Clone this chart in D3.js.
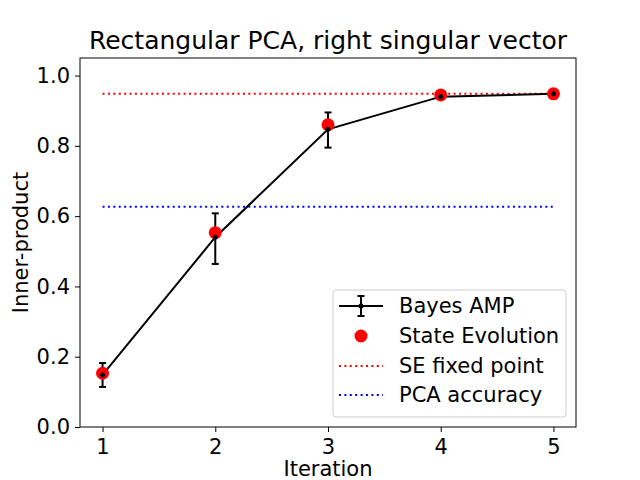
<!DOCTYPE html>
<html>
<head>
<meta charset="utf-8">
<script src="https://cdn.jsdelivr.net/npm/d3@7"></script>
<style>
  body { margin: 0; background: #fff; }
  svg text { font-family: "DejaVu Sans", sans-serif; fill: #000; }
</style>
</head>
<body>
<svg id="chart" width="640" height="480"></svg>
<script>
// values
var iterations = [1, 2, 3, 4, 5];
var amp_mean = [0.148, 0.540, 0.847, 0.940, 0.948];
var amp_lo = [0.114, 0.464, 0.795, 0.936, 0.945];
var amp_hi = [0.182, 0.608, 0.895, 0.944, 0.951];
var se_values = [0.153, 0.553, 0.860, 0.945, 0.948];
var se_fixed_point = 0.948;
var pca_accuracy = 0.627;
var x_ticks = [1, 2, 3, 4, 5];
var y_ticks = [0, 0.2, 0.4, 0.6, 0.8, 1.0];
var legend_labels = ["Bayes AMP", "State Evolution", "SE fixed point", "PCA accuracy"];

var svg = d3.select("#chart");
var plotLeft = 80, plotRight = 576, plotTop = 58, plotBottom = 427;
var fs = "21px";
var lw = 2;
var dots = "2,3.4";

var x = d3.scaleLinear().domain([0.8, 5.2]).range([plotLeft, plotRight]);
var y = d3.scaleLinear().domain([0, 1.05]).range([plotBottom, plotTop]);

// dotted reference lines
function hline(val, color) {
    svg.append("line")
        .attr("x1", x(iterations[0])).attr("x2", x(iterations[iterations.length - 1]))
        .attr("y1", y(val)).attr("y2", y(val))
        .attr("stroke", color).attr("stroke-width", lw)
        .attr("stroke-dasharray", dots);
}
hline(se_fixed_point, "red");
hline(pca_accuracy, "blue");

// Bayes AMP line
var line = d3.line().x(function(d, i) { return x(iterations[i]); }).y(function(d) { return y(d); });
svg.append("path").datum(amp_mean)
    .attr("d", line).attr("fill", "none")
    .attr("stroke", "#000").attr("stroke-width", lw);

// error bars
iterations.forEach(function(it, i) {
    var g = svg.append("g").attr("stroke", "#000").attr("stroke-width", lw);
    g.append("line").attr("x1", x(it)).attr("x2", x(it)).attr("y1", y(amp_lo[i])).attr("y2", y(amp_hi[i]));
    g.append("line").attr("x1", x(it) - 3.5).attr("x2", x(it) + 3.5).attr("y1", y(amp_lo[i])).attr("y2", y(amp_lo[i]));
    g.append("line").attr("x1", x(it) - 3.5).attr("x2", x(it) + 3.5).attr("y1", y(amp_hi[i])).attr("y2", y(amp_hi[i]));
});

// state evolution dots
svg.selectAll("circle.se").data(se_values).enter().append("circle")
    .attr("class", "se")
    .attr("cx", function(d, i) { return x(iterations[i]); })
    .attr("cy", function(d) { return y(d); })
    .attr("r", 6.5).attr("fill", "red");

// small black markers on AMP line
svg.selectAll("circle.amp").data(amp_mean).enter().append("circle")
    .attr("class", "amp")
    .attr("cx", function(d, i) { return x(iterations[i]); })
    .attr("cy", function(d) { return y(d); })
    .attr("r", 2.5).attr("fill", "#000");

// axes
var xAxis = svg.append("g").attr("transform", "translate(0," + plotBottom + ")")
    .call(d3.axisBottom(x).tickValues(x_ticks).tickFormat(d3.format("d")).tickSize(5).tickPadding(5));
var yAxis = svg.append("g").attr("transform", "translate(" + plotLeft + ",0)")
    .call(d3.axisLeft(y).tickValues(y_ticks).tickFormat(d3.format(".1f")).tickSize(5).tickPadding(5));
[xAxis, yAxis].forEach(function(a) {
    a.select(".domain").remove();
    a.selectAll("text").style("font-size", fs).style("font-family", "DejaVu Sans");
    a.selectAll("line").attr("stroke", "#000");
});
xAxis.selectAll("text").attr("dy", "0.8em");

svg.append("rect").attr("x", plotLeft).attr("y", plotTop)
    .attr("width", plotRight - plotLeft).attr("height", plotBottom - plotTop)
    .attr("fill", "none").attr("stroke", "#000").attr("stroke-width", 1);

// labels
svg.append("text").attr("x", (plotLeft + plotRight) / 2).attr("y", 49)
    .attr("text-anchor", "middle").style("font-size", "25px")
    .text("Rectangular PCA, right singular vector");
svg.append("text").attr("x", (plotLeft + plotRight) / 2).attr("y", 476)
    .attr("text-anchor", "middle").style("font-size", fs)
    .text("Iteration");
svg.append("text").attr("transform", "translate(28," + ((plotTop + plotBottom) / 2) + ") rotate(-90)")
    .attr("text-anchor", "middle").style("font-size", fs)
    .text("Inner-product");

// legend
var lg = svg.append("g");
lg.append("rect").attr("x", 333).attr("y", 290).attr("width", 233).attr("height", 127)
    .attr("rx", 3).attr("fill", "#fff").attr("fill-opacity", 0.8)
    .attr("stroke", "#ccc").attr("stroke-width", 1);
var rowY = [306, 336, 366, 395];
legend_labels.forEach(function(lab, i) {
    var cy = rowY[i];
    if (i === 0) {
        lg.append("line").attr("x1", 339).attr("x2", 383).attr("y1", cy).attr("y2", cy).attr("stroke", "#000").attr("stroke-width", lw);
        lg.append("line").attr("x1", 361).attr("x2", 361).attr("y1", cy - 10).attr("y2", cy + 10).attr("stroke", "#000").attr("stroke-width", lw);
        lg.append("line").attr("x1", 357.5).attr("x2", 364.5).attr("y1", cy - 10).attr("y2", cy - 10).attr("stroke", "#000").attr("stroke-width", lw);
        lg.append("line").attr("x1", 357.5).attr("x2", 364.5).attr("y1", cy + 10).attr("y2", cy + 10).attr("stroke", "#000").attr("stroke-width", lw);
        lg.append("circle").attr("cx", 361).attr("cy", cy).attr("r", 2.5).attr("fill", "#000");
    } else if (i === 1) {
        lg.append("circle").attr("cx", 361).attr("cy", cy).attr("r", 6.5).attr("fill", "red");
    } else {
        lg.append("line").attr("x1", 339).attr("x2", 383).attr("y1", cy).attr("y2", cy)
            .attr("stroke", i === 2 ? "red" : "blue").attr("stroke-width", lw)
            .attr("stroke-dasharray", dots);
    }
    lg.append("text").attr("x", 399).attr("y", cy).attr("dy", "0.35em")
        .style("font-size", fs).text(lab);
});
</script>
</body>
</html>
